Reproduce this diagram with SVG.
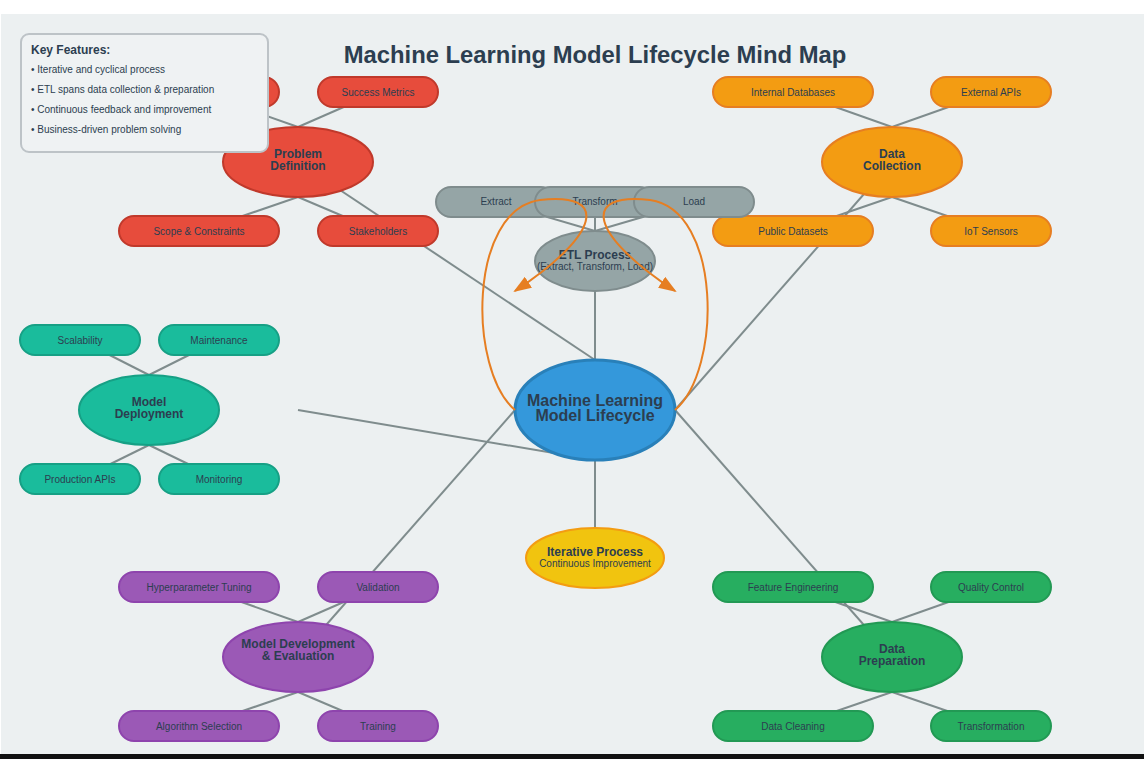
<svg xmlns="http://www.w3.org/2000/svg" width="1144" height="759" viewBox="0 0 1144 759">
<defs>
<style>
text{font-family:"Liberation Sans",Arial,sans-serif;fill:#2c3e50;text-anchor:middle}
.t{font-size:10px}
.h{font-size:12px;font-weight:bold}
.c{stroke:#7f8c8d;stroke-width:2;fill:none}
.o{stroke:#e67e22;stroke-width:2;fill:none}
.pd{fill:#e74c3c;stroke:#c0392b;stroke-width:2}
.dc{fill:#f39c12;stroke:#e67e22;stroke-width:2}
.dp{fill:#27ae60;stroke:#229954;stroke-width:2}
.md{fill:#9b59b6;stroke:#8e44ad;stroke-width:2}
.dep{fill:#1abc9c;stroke:#16a085;stroke-width:2}
.etl{fill:#95a5a6;stroke:#7f8c8d;stroke-width:2}
.k{font-size:10px;text-anchor:start}
</style>
<marker id="arr" markerUnits="userSpaceOnUse" markerWidth="18" markerHeight="13" refX="16" refY="6.5" orient="auto">
<polygon points="0 0,18 6.5,0 13" fill="#e67e22"/>
</marker>
</defs>
<rect x="0" y="0" width="1144" height="759" fill="#ffffff"/>
<rect x="1" y="14" width="1143" height="740" fill="#ecf0f1"/>
<rect x="0" y="754" width="1144" height="5" fill="#111111"/>

<g id="connectors">
<line class="c" x1="595" y1="360" x2="298" y2="162"/>
<line class="c" x1="675" y1="410" x2="892" y2="162"/>
<line class="c" x1="675" y1="410" x2="892" y2="657"/>
<line class="c" x1="515" y1="410" x2="298" y2="657"/>
<line class="c" x1="298" y1="410" x2="595" y2="460"/>
<line class="c" x1="595" y1="460" x2="595" y2="528"/>
<line class="c" x1="595" y1="291" x2="595" y2="360"/>
<line class="c" x1="298" y1="127" x2="199" y2="92"/>
<line class="c" x1="298" y1="127" x2="378" y2="92"/>
<line class="c" x1="298" y1="197" x2="199" y2="231"/>
<line class="c" x1="298" y1="197" x2="378" y2="231"/>
<line class="c" x1="892" y1="127" x2="793" y2="92"/>
<line class="c" x1="892" y1="127" x2="991" y2="92"/>
<line class="c" x1="892" y1="197" x2="793" y2="231"/>
<line class="c" x1="892" y1="197" x2="991" y2="231"/>
<line class="c" x1="892" y1="622" x2="793" y2="587"/>
<line class="c" x1="892" y1="622" x2="991" y2="587"/>
<line class="c" x1="892" y1="692" x2="793" y2="726"/>
<line class="c" x1="892" y1="692" x2="991" y2="726"/>
<line class="c" x1="298" y1="622" x2="199" y2="587"/>
<line class="c" x1="298" y1="622" x2="378" y2="587"/>
<line class="c" x1="298" y1="692" x2="199" y2="726"/>
<line class="c" x1="298" y1="692" x2="378" y2="726"/>
<line class="c" x1="149" y1="375" x2="80" y2="340"/>
<line class="c" x1="149" y1="375" x2="219" y2="340"/>
<line class="c" x1="149" y1="445" x2="80" y2="479"/>
<line class="c" x1="149" y1="445" x2="219" y2="479"/>
<line class="c" x1="595" y1="231" x2="496" y2="202"/>
<line class="c" x1="595" y1="231" x2="595" y2="202"/>
<line class="c" x1="595" y1="231" x2="694" y2="202"/>
</g>

<text x="595" y="63" style="font-size:23.8px;font-weight:bold">Machine Learning Model Lifecycle Mind Map</text>

<g id="problem-definition">
<rect class="pd" x="119" y="77" width="160" height="30" rx="15"/>
<rect class="pd" x="318" y="77" width="120" height="30" rx="15"/>
<text class="t" x="378" y="96">Success Metrics</text>
<rect class="pd" x="119" y="216" width="160" height="30" rx="15"/>
<text class="t" x="199" y="235">Scope &amp; Constraints</text>
<rect class="pd" x="318" y="216" width="120" height="30" rx="15"/>
<text class="t" x="378" y="235">Stakeholders</text>
<ellipse class="pd" cx="298" cy="162" rx="75" ry="35"/>
<text class="h" x="298" y="158">Problem</text>
<text class="h" x="298" y="170">Definition</text>
</g>

<g id="data-collection">
<rect class="dc" x="713" y="77" width="160" height="30" rx="15"/>
<text class="t" x="793" y="96">Internal Databases</text>
<rect class="dc" x="931" y="77" width="120" height="30" rx="15"/>
<text class="t" x="991" y="96">External APIs</text>
<rect class="dc" x="713" y="216" width="160" height="30" rx="15"/>
<text class="t" x="793" y="235">Public Datasets</text>
<rect class="dc" x="931" y="216" width="120" height="30" rx="15"/>
<text class="t" x="991" y="235">IoT Sensors</text>
<ellipse class="dc" cx="892" cy="162" rx="70" ry="35"/>
<text class="h" x="892" y="158">Data</text>
<text class="h" x="892" y="170">Collection</text>
</g>

<g id="data-preparation">
<rect class="dp" x="713" y="572" width="160" height="30" rx="15"/>
<text class="t" x="793" y="591">Feature Engineering</text>
<rect class="dp" x="931" y="572" width="120" height="30" rx="15"/>
<text class="t" x="991" y="591">Quality Control</text>
<rect class="dp" x="713" y="711" width="160" height="30" rx="15"/>
<text class="t" x="793" y="730">Data Cleaning</text>
<rect class="dp" x="931" y="711" width="120" height="30" rx="15"/>
<text class="t" x="991" y="730">Transformation</text>
<ellipse class="dp" cx="892" cy="657" rx="70" ry="35"/>
<text class="h" x="892" y="653">Data</text>
<text class="h" x="892" y="665">Preparation</text>
</g>

<g id="model-development">
<rect class="md" x="119" y="572" width="160" height="30" rx="15"/>
<text class="t" x="199" y="591">Hyperparameter Tuning</text>
<rect class="md" x="318" y="572" width="120" height="30" rx="15"/>
<text class="t" x="378" y="591">Validation</text>
<rect class="md" x="119" y="711" width="160" height="30" rx="15"/>
<text class="t" x="199" y="730">Algorithm Selection</text>
<rect class="md" x="318" y="711" width="120" height="30" rx="15"/>
<text class="t" x="378" y="730">Training</text>
<ellipse class="md" cx="298" cy="657" rx="75" ry="35"/>
<text class="h" x="298" y="648">Model Development</text>
<text class="h" x="298" y="660">&amp; Evaluation</text>
</g>

<g id="model-deployment">
<rect class="dep" x="20" y="325" width="120" height="30" rx="15"/>
<text class="t" x="80" y="344">Scalability</text>
<rect class="dep" x="159" y="325" width="120" height="30" rx="15"/>
<text class="t" x="219" y="344">Maintenance</text>
<rect class="dep" x="20" y="464" width="120" height="30" rx="15"/>
<text class="t" x="80" y="483">Production APIs</text>
<rect class="dep" x="159" y="464" width="120" height="30" rx="15"/>
<text class="t" x="219" y="483">Monitoring</text>
<ellipse class="dep" cx="149" cy="410" rx="70" ry="35"/>
<text class="h" x="149" y="406">Model</text>
<text class="h" x="149" y="418">Deployment</text>
</g>

<g id="etl-process">
<rect class="etl" x="436" y="187" width="120" height="30" rx="15"/>
<text class="t" x="496" y="205">Extract</text>
<rect class="etl" x="535" y="187" width="120" height="30" rx="15"/>
<text class="t" x="595" y="205">Transform</text>
<rect class="etl" x="634" y="187" width="120" height="30" rx="15"/>
<text class="t" x="694" y="205">Load</text>
<ellipse class="etl" cx="595" cy="261" rx="60" ry="30"/>
<text class="h" x="595" y="259">ETL Process</text>
<text class="t" x="595" y="270">(Extract, Transform, Load)</text>
</g>

<g id="center">
<ellipse cx="595" cy="410" rx="80" ry="50" fill="#3498db" stroke="#2980b9" stroke-width="3"/>
<text x="595" y="406" style="font-size:16px;font-weight:bold">Machine Learning</text>
<text x="595" y="421" style="font-size:16px;font-weight:bold">Model Lifecycle</text>
</g>

<g id="iterative-process">
<ellipse cx="595" cy="558" rx="69" ry="30" fill="#f1c40f" stroke="#f39c12" stroke-width="2"/>
<text class="h" x="595" y="556">Iterative Process</text>
<text class="t" x="595" y="567">Continuous Improvement</text>
</g>

<g id="feedback-arrows">
<path class="o" d="M 515 410 C 468 370, 468 210, 540 200 C 610 192, 600 235, 515 291" marker-end="url(#arr)"/>
<path class="o" d="M 675 410 C 722 370, 722 210, 650 200 C 580 192, 590 235, 675 291" marker-end="url(#arr)"/>
</g>

<g id="key-features">
<rect x="21" y="34" width="247" height="118" rx="8" fill="#eff2f3" stroke="#bdc3c7" stroke-width="2"/>
<text x="31" y="54" style="font-size:12px;font-weight:bold;text-anchor:start">Key Features:</text>
<text class="k" x="31" y="73">• Iterative and cyclical process</text>
<text class="k" x="31" y="93">• ETL spans data collection &amp; preparation</text>
<text class="k" x="31" y="113">• Continuous feedback and improvement</text>
<text class="k" x="31" y="133">• Business-driven problem solving</text>
</g>
</svg>
